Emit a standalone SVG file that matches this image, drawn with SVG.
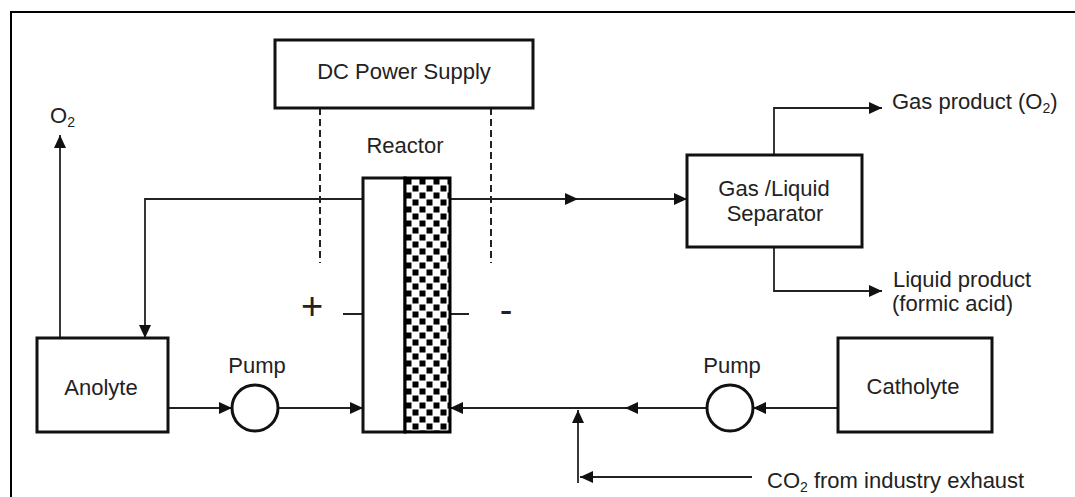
<svg xmlns="http://www.w3.org/2000/svg" width="1075" height="497" viewBox="0 0 1075 497">
<style>
.box{fill:#fff;stroke:#111;stroke-width:3}
.ln{fill:none;stroke:#222;stroke-width:1.8}
.dash{fill:none;stroke:#222;stroke-width:2;stroke-dasharray:7 4}
.t{font-family:"Liberation Sans",Arial,sans-serif;font-size:22px;fill:#222}
.c{text-anchor:middle}
.sub{font-size:14px}
.sign{font-family:"Liberation Sans",Arial,sans-serif;font-size:38px;fill:#222;text-anchor:middle}
</style>
<defs>
<marker id="ar" markerUnits="userSpaceOnUse" markerWidth="14" markerHeight="12" refX="13" refY="6" orient="auto">
<path d="M0,0 L13,6 L0,12 z" fill="#111"/>
</marker>
<pattern id="chk" patternUnits="userSpaceOnUse" x="405" y="178" width="14" height="14">
<rect width="14" height="14" fill="#fff"/>
<rect x="0.5" y="0.5" width="6" height="6" fill="#000"/>
<rect x="7.5" y="7.5" width="6" height="6" fill="#000"/>
</pattern>
</defs>
<rect width="1075" height="497" fill="#fff"/>
<path d="M11,497 V12 H1075" fill="none" stroke="#000" stroke-width="2"/>

<g id="connectors">
<path class="ln" d="M60,338 V135" marker-end="url(#ar)"/>
<path class="ln" d="M363,199 H145 V338" marker-end="url(#ar)"/>
<path class="ln" d="M450,199 H578" marker-end="url(#ar)"/>
<path class="ln" d="M578,199 H687" marker-end="url(#ar)"/>
<path class="ln" d="M774,155 V108 H882" marker-end="url(#ar)"/>
<path class="ln" d="M774,247 V291 H882" marker-end="url(#ar)"/>
<path class="ln" d="M168,408 H232" marker-end="url(#ar)"/>
<path class="ln" d="M278,408 H363" marker-end="url(#ar)"/>
<path class="ln" d="M838,408 H753" marker-end="url(#ar)"/>
<path class="ln" d="M707,408 H625" marker-end="url(#ar)"/>
<path class="ln" d="M625,408 H450" marker-end="url(#ar)"/>
<path class="ln" d="M578,483 V410" marker-end="url(#ar)"/>
<path class="ln" d="M752,477 H580" marker-end="url(#ar)"/>
<path class="ln" d="M343,314 H363 M450,314 H469"/>
<path class="dash" d="M320,108 V263 M491,108 V263"/>
</g>

<g id="dc-power-supply">
<rect class="box" x="275" y="40" width="258" height="68"/>
<text class="t c" x="404" y="79">DC Power Supply</text>
</g>

<g id="reactor">
<text class="t c" x="405" y="153">Reactor</text>
<rect class="box" x="363" y="178" width="42" height="254"/>
<rect x="405" y="178" width="45" height="254" fill="url(#chk)" stroke="#000" stroke-width="3"/>
<text class="sign" x="312" y="319">+</text>
<text class="sign" x="506" y="323">-</text>
</g>

<g id="anolyte">
<rect class="box" x="37" y="338" width="131" height="94"/>
<text class="t c" x="101" y="395">Anolyte</text>
</g>

<g id="pump-left">
<circle cx="255" cy="408" r="23" fill="#fff" stroke="#111" stroke-width="3"/>
<text class="t c" x="257" y="373">Pump</text>
</g>

<g id="pump-right">
<circle cx="730" cy="408" r="23" fill="#fff" stroke="#111" stroke-width="3"/>
<text class="t c" x="732" y="373">Pump</text>
</g>

<g id="catholyte">
<rect class="box" x="838" y="338" width="154" height="94"/>
<text class="t c" x="913" y="394">Catholyte</text>
</g>

<g id="separator">
<rect class="box" x="687" y="155" width="175" height="92"/>
<text class="t c" x="774" y="196">Gas /Liquid</text>
<text class="t c" x="775" y="221">Separator</text>
</g>

<g id="labels">
<text class="t" x="50" y="123">O<tspan class="sub" dy="4">2</tspan></text>
<text class="t" x="892" y="109">Gas product (O<tspan class="sub" dy="4">2</tspan><tspan dy="-4">)</tspan></text>
<text class="t" x="893" y="287">Liquid product</text>
<text class="t" x="892" y="311">(formic acid)</text>
<text class="t" x="767" y="488">CO<tspan class="sub" dy="4">2</tspan><tspan dy="-4"> from industry exhaust</tspan></text>
</g>
</svg>
